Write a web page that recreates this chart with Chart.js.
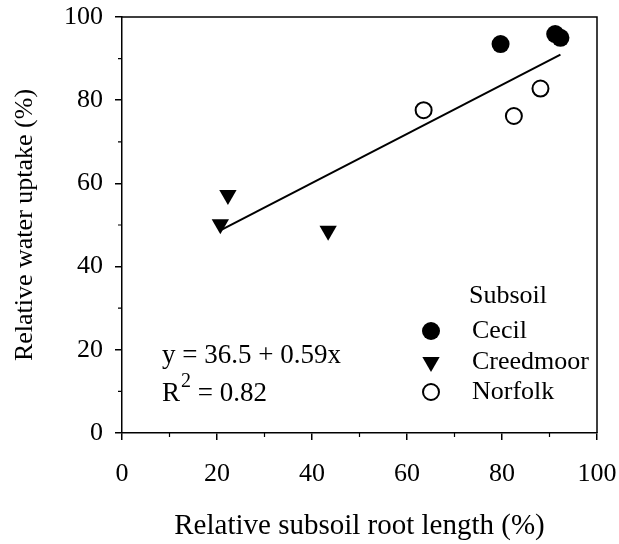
<!DOCTYPE html>
<html>
<head>
<meta charset="utf-8">
<script src="https://cdn.jsdelivr.net/npm/chart.js@4/dist/chart.umd.min.js"></script>
<style>
  html, body { margin: 0; padding: 0; background: #fff; }
  canvas { display: block; }
</style>
</head>
<body>
<canvas id="chart" width="619" height="544"></canvas>
<script>
// Relative subsoil root length (x, %) vs relative water uptake (y, %)
const cecilX = [79.7, 91.2, 92.3];
const cecilY = [93.5, 95.9, 95.0];
const creedmoorX = [22.3, 20.7, 43.4];
const creedmoorY = [57.2, 50.2, 48.6];
const norfolkX = [63.5, 82.5, 88.1];
const norfolkY = [77.6, 76.2, 82.8];

// Linear fit across all subsoils
const fitIntercept = 36.5;
const fitSlope = 0.59;
const fitR2 = 0.82;
const fitRange = [20.7, 92.3];

const xTickValues = [0, 20, 40, 60, 80, 100];
const yTickValues = [0, 20, 40, 60, 80, 100];
const minorTickValues = [10, 30, 50, 70, 90];

const seriesNames = ['Cecil', 'Creedmoor', 'Norfolk'];
const legendTitle = 'Subsoil';
const xTitle = 'Relative subsoil root length (%)';
const yTitle = 'Relative water uptake (%)';

const FONT = '"Liberation Serif", "Times New Roman", serif';
const TICK_FS = 26;
const NOTE_FS = 26;

const pts = (xs, ys) => xs.map((x, i) => ({ x, y: ys[i] }));
const fitLine = fitRange.map(x => ({ x, y: fitIntercept + fitSlope * x }));

// Closed frame plus minor tick marks on both axes
const framePlugin = {
  id: 'frame',
  afterDraw(chart) {
    const { ctx, chartArea: a, scales } = chart;
    ctx.save();
    ctx.strokeStyle = '#000';
    ctx.lineWidth = 1.5;
    ctx.beginPath();
    ctx.moveTo(a.left, a.top);
    ctx.lineTo(a.right, a.top);
    ctx.lineTo(a.right, a.bottom);
    ctx.stroke();
    ctx.lineWidth = 1.2;
    ctx.beginPath();
    minorTickValues.forEach(v => {
      const px = scales.x.getPixelForValue(v);
      ctx.moveTo(px, a.bottom);
      ctx.lineTo(px, a.bottom + 4);
      const py = scales.y.getPixelForValue(v);
      ctx.moveTo(a.left, py);
      ctx.lineTo(a.left - 4, py);
    });
    ctx.stroke();
    ctx.restore();
  }
};

// Legend box and regression equation inside the plot area
const notesPlugin = {
  id: 'notes',
  afterDraw(chart) {
    const { ctx } = chart;
    ctx.save();
    ctx.fillStyle = '#000';
    ctx.strokeStyle = '#000';
    ctx.font = `${NOTE_FS}px ${FONT}`;
    ctx.textBaseline = 'middle';
    ctx.textAlign = 'left';

    ctx.fillText(legendTitle, 469, 296);
    const rows = [331, 362, 392];
    const mx = 431;
    // Cecil: filled circle
    ctx.beginPath(); ctx.arc(mx, rows[0], 9, 0, Math.PI * 2); ctx.fill();
    // Creedmoor: filled downward triangle
    const r = 10;
    ctx.beginPath();
    ctx.moveTo(mx - r * Math.sqrt(3) / 2, rows[1] - r / 2);
    ctx.lineTo(mx + r * Math.sqrt(3) / 2, rows[1] - r / 2);
    ctx.lineTo(mx, rows[1] + r);
    ctx.closePath(); ctx.fill();
    // Norfolk: open circle
    ctx.lineWidth = 2;
    ctx.beginPath(); ctx.arc(mx, rows[2], 8, 0, Math.PI * 2); ctx.stroke();
    seriesNames.forEach((n, i) => ctx.fillText(n, 472, rows[i]));

    ctx.font = `27px ${FONT}`;
    const eq = `y = ${fitIntercept} + ${fitSlope}x`;
    ctx.fillText(eq, 162, 356);
    const rx = 162, ry = 394;
    ctx.fillText('R', rx, ry);
    const rw = ctx.measureText('R').width;
    ctx.font = `20px ${FONT}`;
    ctx.fillText('2', rx + rw + 1, ry - 12);
    const sw = ctx.measureText('2').width;
    ctx.font = `27px ${FONT}`;
    ctx.fillText(` = ${fitR2}`, rx + rw + sw + 1, ry);
    ctx.restore();
  }
};

const axisCommon = {
  type: 'linear',
  min: 0,
  max: 100,
  grid: {
    drawOnChartArea: false,
    drawTicks: true,
    tickLength: 7,
    color: '#000',
    lineWidth: 1.5
  },
  border: { display: true, color: '#000', width: 1.5 }
};

new Chart(document.getElementById('chart'), {
  type: 'scatter',
  data: {
    datasets: [
      {
        label: seriesNames[0],
        data: pts(cecilX, cecilY),
        pointStyle: 'circle',
        pointRadius: 9,
        backgroundColor: '#000',
        borderColor: '#000',
        borderWidth: 0
      },
      {
        label: seriesNames[1],
        data: pts(creedmoorX, creedmoorY),
        pointStyle: 'triangle',
        rotation: 180,
        pointRadius: 10,
        backgroundColor: '#000',
        borderColor: '#000',
        borderWidth: 0
      },
      {
        label: seriesNames[2],
        data: pts(norfolkX, norfolkY),
        pointStyle: 'circle',
        pointRadius: 8,
        backgroundColor: '#fff',
        borderColor: '#000',
        borderWidth: 2
      },
      {
        label: 'fit',
        type: 'line',
        data: fitLine,
        showLine: true,
        borderColor: '#000',
        borderWidth: 2,
        pointRadius: 0,
        fill: false,
        order: 10
      }
    ]
  },
  options: {
    responsive: false,
    animation: false,
    devicePixelRatio: 1,
    layout: { padding: { top: 17, right: 22, left: 0, bottom: 0 } },
    plugins: {
      legend: { display: false },
      tooltip: { enabled: false }
    },
    scales: {
      x: {
        ...axisCommon,
        afterBuildTicks: s => { s.ticks = xTickValues.map(v => ({ value: v })); },
        afterFit: s => { s.height = 111; s.paddingLeft = 0; s.paddingRight = 0; },
        ticks: {
          color: '#000',
          font: { family: FONT, size: TICK_FS },
          padding: 19,
          maxRotation: 0,
          autoSkip: false
        },
        title: {
          display: true,
          text: xTitle,
          color: '#000',
          font: { family: FONT, size: 29 },
          padding: { top: 0, bottom: 0 }
        }
      },
      y: {
        ...axisCommon,
        afterBuildTicks: s => { s.ticks = yTickValues.map(v => ({ value: v })); },
        afterFit: s => { s.width = 122; s.paddingTop = 0; s.paddingBottom = 0; },
        ticks: {
          color: '#000',
          font: { family: FONT, size: TICK_FS },
          padding: 12,
          autoSkip: false
        },
        title: {
          display: true,
          text: yTitle,
          color: '#000',
          font: { family: FONT, size: 26 },
          padding: { top: 10, bottom: 0 }
        }
      }
    }
  },
  plugins: [framePlugin, notesPlugin]
});
</script>
</body>
</html>
